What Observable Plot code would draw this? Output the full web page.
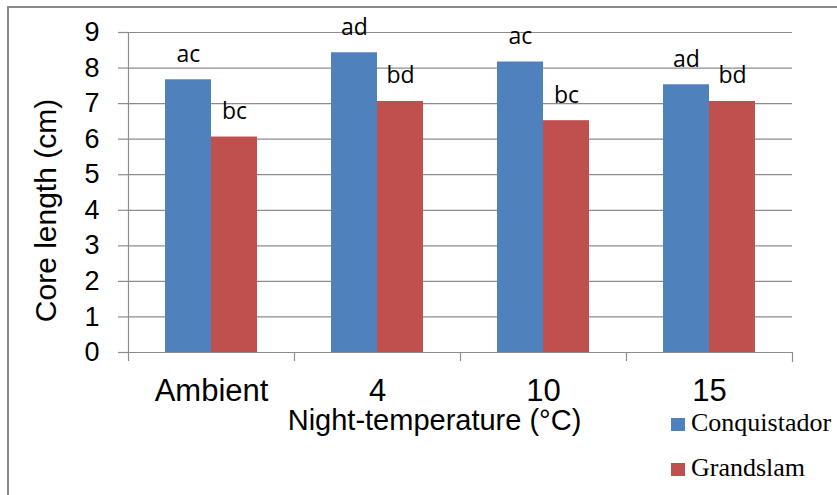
<!DOCTYPE html>
<html><head><meta charset="utf-8">
<script src="https://cdn.jsdelivr.net/npm/d3@7"></script>
<script src="https://cdn.jsdelivr.net/npm/@observablehq/plot@0.6"></script>
<style>
body{margin:0;background:#fff;}
#wrap{position:relative;width:837px;height:495px;overflow:hidden;background:#fff;}
#border{position:absolute;left:7px;top:6px;width:900px;height:600px;border-left:2.5px solid #8a8a8a;border-top:2.5px solid #8a8a8a;}
#chart{position:absolute;left:0;top:0;}
.lg{position:absolute;left:671px;font-family:"Liberation Serif","DejaVu Serif","Noto Serif","Times New Roman",Times,serif;font-size:26px;line-height:26px;color:#000;white-space:nowrap;}
.lg span.sw{display:inline-block;width:14px;height:13px;margin-right:6px;vertical-align:0px;}
</style></head>
<body><div id="wrap"><div id="border"></div><div id="chart"></div><div id="legend"></div></div>
<script>
const categories = ["Ambient", "4", "10", "15"];
const varieties = ["Conquistador", "Grandslam"];
const conquistador = [7.67, 8.43, 8.17, 7.53];
const grandslam = [6.06, 7.06, 6.52, 7.06];
const lettersConquistador = ["ac", "ad", "ac", "ad"];
const lettersGrandslam = ["bc", "bd", "bc", "bd"];
const yTicks = [0, 1, 2, 3, 4, 5, 6, 7, 8, 9];
const colors = ["#4F81BD", "#C0504D"];
const yTitle = "Core length (cm)";
const xTitle = "Night-temperature (°C)";

const rows = [];
categories.forEach((c, i) => {
  rows.push({category: c, variety: varieties[0], value: conquistador[i], letters: lettersConquistador[i]});
  rows.push({category: c, variety: varieties[1], value: grandslam[i], letters: lettersGrandslam[i]});
});

const grid = "#8c8c8c";
const chart = Plot.plot({
  width: 837, height: 495,
  marginLeft: 128, marginRight: 45, marginTop: 32, marginBottom: 143,
  style: {fontFamily: "Liberation Sans, Arial, sans-serif", color: "#000", background: "transparent", overflow: "visible"},
  fx: {domain: categories, paddingInner: 0, paddingOuter: 0, label: null},
  x: {domain: varieties, paddingInner: 0, paddingOuter: 0.766, axis: null},
  y: {domain: [0, 9], label: null},
  color: {domain: varieties, range: colors},
  marks: [
    Plot.gridY(yTicks, {stroke: grid, strokeOpacity: 1, strokeWidth: 1.2}),
    Plot.frame({anchor: "left", facetAnchor: "left", stroke: grid, strokeWidth: 1.2}),
    Plot.barY(rows, {fx: "category", x: "variety", y: "value", fill: "variety"}),
    Plot.text(rows, {fx: "category", x: "variety", y: "value", text: "letters", dy: -18, lineAnchor: "bottom", fontSize: 23, fontFamily: "Open Sans, sans-serif", fill: "#000"}),
    Plot.axisY(yTicks, {tickSize: 10, tickPadding: 19, fontSize: 27, label: null, stroke: grid, strokeWidth: 1.2}),
    Plot.text([yTitle], {frameAnchor: "left", facetAnchor: "left", rotate: -90, lineAnchor: "top", textAnchor: "middle", dx: -94, dy: 18, fontSize: 30, fill: "#000"}),
    Plot.axisFx({anchor: "bottom", tickSize: 0, tickPadding: 26, fontSize: 31, label: null}),
    Plot.axisFx({anchor: "bottom", tickSize: 9, tickFormat: null, dx: -83, stroke: grid, strokeWidth: 1.2, label: null}),
    Plot.frame({anchor: "right", facetAnchor: "right", stroke: grid, strokeWidth: 1.2, insetTop: 320, insetBottom: -9}),
    Plot.text([xTitle], {frameAnchor: "bottom-left", facetAnchor: "left", lineAnchor: "bottom", textAnchor: "middle", dx: 306, dy: 77, fontSize: 29, fill: "#000"})
  ]
});
document.getElementById("chart").appendChild(chart);

const legend = document.getElementById("legend");
const tops = [410, 455];
varieties.forEach((v, i) => {
  const d = document.createElement("div");
  d.className = "lg";
  d.style.top = tops[i] + "px";
  d.innerHTML = `<span class="sw" style="background:${colors[i]}"></span>${v}`;
  legend.appendChild(d);
});
</script>
</body></html>
